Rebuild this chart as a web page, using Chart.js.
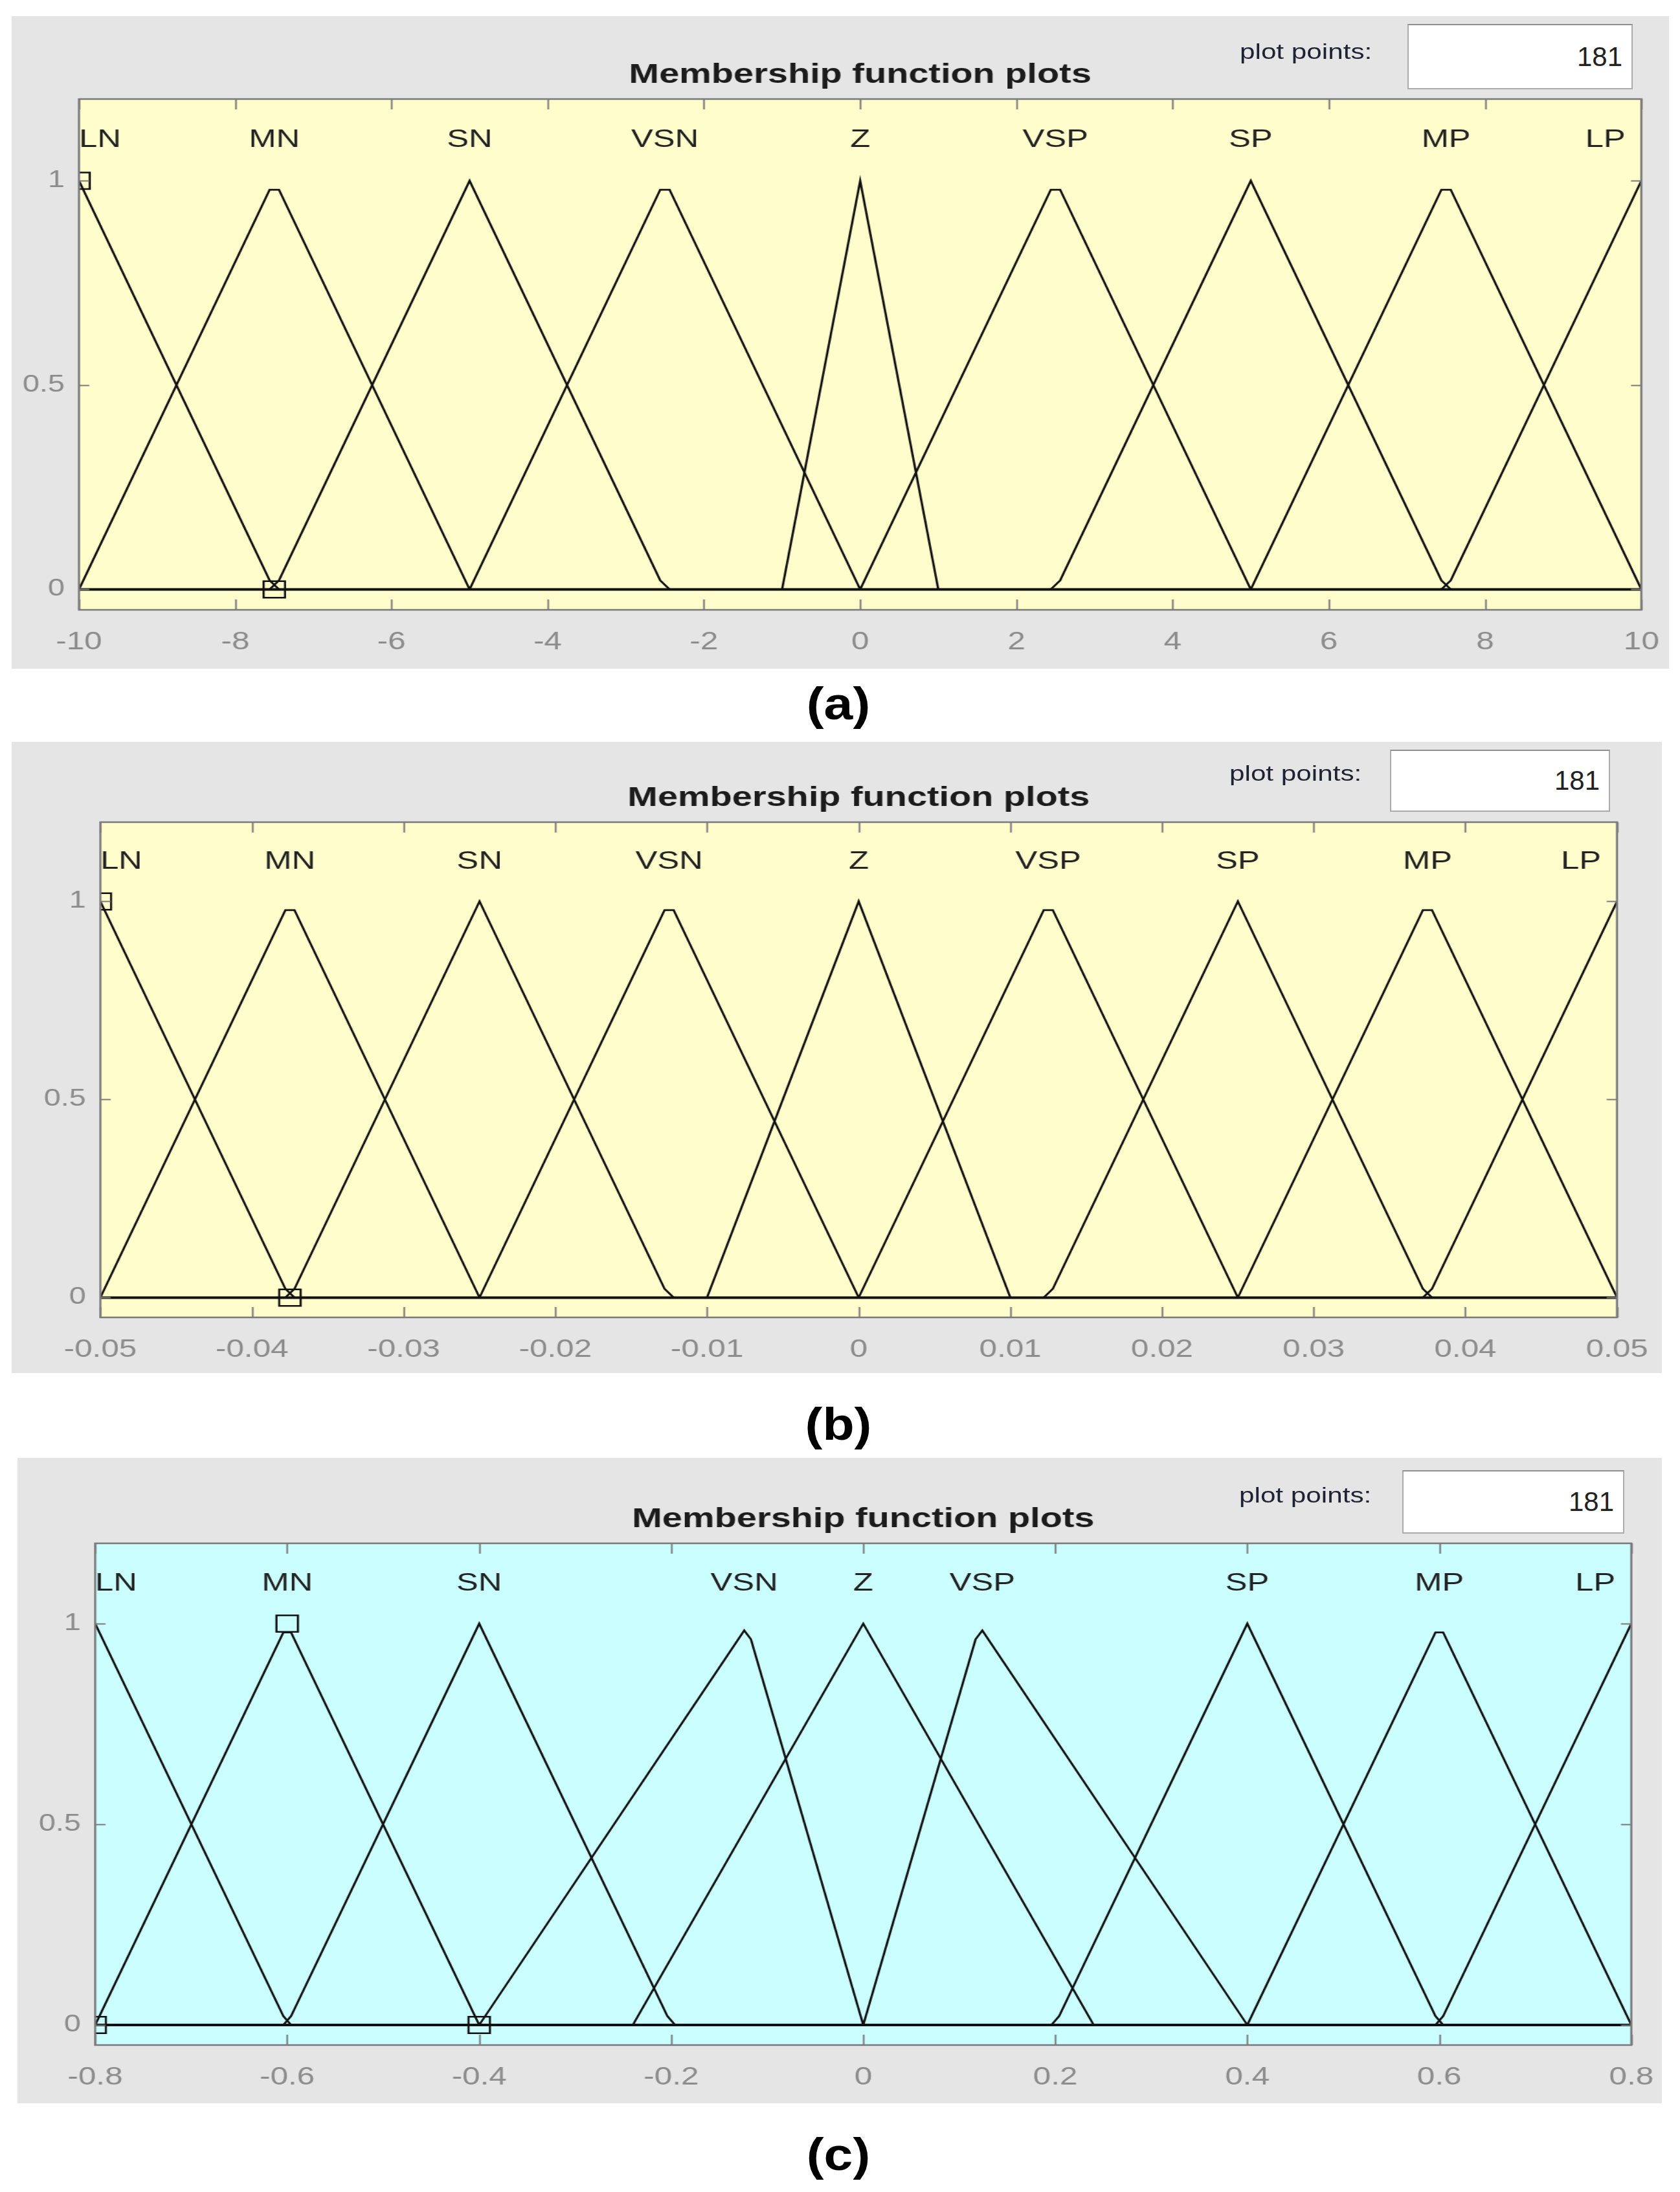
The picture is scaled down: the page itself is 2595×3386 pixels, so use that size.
<!DOCTYPE html>
<html>
<head>
<meta charset="utf-8">
<title>Membership function plots</title>
<script src="https://cdn.jsdelivr.net/npm/chart.js@4.4.1/dist/chart.umd.min.js"></script>
<style>
    html, body { margin: 0; background: #fff; }
    body { position: relative; width: 2595px; height: 3386px; overflow: hidden; font-family: "Liberation Sans", Arial, sans-serif; }
    .panel { position: absolute; background: #e5e5e5; }
    .panel canvas { position: absolute; left: 0; top: 0; }
    .points-label { position: absolute; height: 40px; line-height: 40px; font-size: 33px; color: #1f2233; white-space: nowrap; transform: scaleX(1.28); transform-origin: left center; }
    .points-box { position: absolute; box-sizing: border-box; background: #fff; border: 2px solid #ababab; border-top-color: #8e8e8e; text-align: right; padding-right: 14px; font-size: 42px; color: #222; }
    .caption { position: absolute; width: 400px; height: 80px; line-height: 80px; text-align: center; font-weight: bold; font-size: 70px; color: #000; transform: scaleX(1.15); }
</style>
</head>
<body>
<script>
// the original screenshot is stretched horizontally, the canvases are too
const S = 1.3;
const Y_AXIS_W = 70;
const X_AXIS_H = 80;

const mfNames = ['LN', 'MN', 'SN', 'VSN', 'Z', 'VSP', 'SP', 'MP', 'LP'];
const yRange = [-0.05, 1.2];
const yTicks = [0, 0.5, 1];
const yTickLabels = ['0', '0.5', '1'];
const labelLevel = 1.1;
const plotPoints = '181';
const plotTitle = 'Membership function plots';

// (a)
const rangeA = [-10, 10];
const xTicksA = [-10, -8, -6, -4, -2, 0, 2, 4, 6, 8, 10];
const xTickLabelsA = ['-10', '-8', '-6', '-4', '-2', '0', '2', '4', '6', '8', '10'];
const peaksA = [-10, -7.5, -5, -2.5, 0, 2.5, 5, 7.5, 10];
const curvesA = [
    [[-10, 1], [-7.56, 0.022], [-7.44, 0]],
    [[-10, 0], [-7.56, 0.978], [-7.44, 0.978], [-5, 0]],
    [[-7.56, 0], [-7.44, 0.022], [-5, 1], [-2.56, 0.022], [-2.44, 0]],
    [[-5, 0], [-2.56, 0.978], [-2.44, 0.978], [0, 0]],
    [[-1, 0], [0, 1], [1, 0]],
    [[0, 0], [2.44, 0.978], [2.56, 0.978], [5, 0]],
    [[2.44, 0], [2.56, 0.022], [5, 1], [7.44, 0.022], [7.56, 0]],
    [[5, 0], [7.44, 0.978], [7.56, 0.978], [10, 0]],
    [[7.44, 0], [7.56, 0.022], [10, 1]],
];
const markersA = [[-10, 1], [-7.5, 0]];

// (b)
const rangeB = [-0.05, 0.05];
const xTicksB = [-0.05, -0.04, -0.03, -0.02, -0.01, 0, 0.01, 0.02, 0.03, 0.04, 0.05];
const xTickLabelsB = ['-0.05', '-0.04', '-0.03', '-0.02', '-0.01', '0', '0.01', '0.02', '0.03', '0.04', '0.05'];
const peaksB = [-0.05, -0.0375, -0.025, -0.0125, 0, 0.0125, 0.025, 0.0375, 0.05];
const curvesB = [
    [[-0.05, 1], [-0.0378, 0.022], [-0.0372, 0]],
    [[-0.05, 0], [-0.0378, 0.978], [-0.0372, 0.978], [-0.025, 0]],
    [[-0.0378, 0], [-0.0372, 0.022], [-0.025, 1], [-0.0128, 0.022], [-0.0122, 0]],
    [[-0.025, 0], [-0.0128, 0.978], [-0.0122, 0.978], [0, 0]],
    [[-0.01, 0], [0, 1], [0.01, 0]],
    [[0, 0], [0.0122, 0.978], [0.0128, 0.978], [0.025, 0]],
    [[0.0122, 0], [0.0128, 0.022], [0.025, 1], [0.0372, 0.022], [0.0378, 0]],
    [[0.025, 0], [0.0372, 0.978], [0.0378, 0.978], [0.05, 0]],
    [[0.0372, 0], [0.0378, 0.022], [0.05, 1]],
];
const markersB = [[-0.05, 1], [-0.0375, 0]];

// (c)
const rangeC = [-0.8, 0.8];
const xTicksC = [-0.8, -0.6, -0.4, -0.2, 0, 0.2, 0.4, 0.6, 0.8];
const xTickLabelsC = ['-0.8', '-0.6', '-0.4', '-0.2', '0', '0.2', '0.4', '0.6', '0.8'];
const peaksC = [-0.8, -0.6, -0.4, -0.124, 0, 0.124, 0.4, 0.6, 0.8];
const curvesC = [
    [[-0.8, 1], [-0.604, 0.022], [-0.596, 0]],
    [[-0.8, 0], [-0.604, 0.978], [-0.596, 0.978], [-0.4, 0]],
    [[-0.604, 0], [-0.596, 0.022], [-0.4, 1], [-0.204, 0.022], [-0.196, 0]],
    [[-0.4, 0], [-0.124, 0.983], [-0.117, 0.961], [0, 0]],
    [[-0.24, 0], [0, 1], [0.24, 0]],
    [[0, 0], [0.117, 0.961], [0.124, 0.983], [0.4, 0]],
    [[0.196, 0], [0.204, 0.022], [0.4, 1], [0.596, 0.022], [0.604, 0]],
    [[0.4, 0], [0.596, 0.978], [0.604, 0.978], [0.8, 0]],
    [[0.596, 0], [0.604, 0.022], [0.8, 1]],
];
const markersC = [[-0.8, 0], [-0.6, 1], [-0.4, 0]];

const panels = [
    {
        caption: '(a)', range: rangeA, xTicks: xTicksA, xTickLabels: xTickLabelsA,
        peaks: peaksA, curves: curvesA, markers: markersA, background: '#fffdcc',
        box: [18, 25, 2578, 1033], plot: [122, 153, 2535, 942],
        pointsLabel: [1915, 80], pointsBox: [2174, 37, 2522, 138], captionAt: [1295, 1087],
    },
    {
        caption: '(b)', range: rangeB, xTicks: xTicksB, xTickLabels: xTickLabelsB,
        peaks: peaksB, curves: curvesB, markers: markersB, background: '#fffdcc',
        box: [18, 1146, 2567, 2121], plot: [155, 1270, 2498, 2035],
        pointsLabel: [1899, 1195], pointsBox: [2147, 1158, 2487, 1254], captionAt: [1295, 2200],
    },
    {
        caption: '(c)', range: rangeC, xTicks: xTicksC, xTickLabels: xTickLabelsC,
        peaks: peaksC, curves: curvesC, markers: markersC, background: '#cbfefe',
        box: [27, 2252, 2567, 3249], plot: [147, 2384, 2520, 3159],
        pointsLabel: [1914, 2310], pointsBox: [2166, 2271, 2509, 2369], captionAt: [1295, 3328],
    },
];

Chart.defaults.font.family = '"Liberation Sans", Arial, sans-serif';

const mfPanelPlugin = {
    id: 'mfPanel',
    beforeDraw(chart, args, opts) {
        const { ctx, chartArea: a } = chart;
        ctx.save();
        ctx.fillStyle = opts.background;
        ctx.fillRect(a.left, a.top, a.right - a.left, a.bottom - a.top);
        ctx.restore();
    },
    afterDatasetsDraw(chart, args, opts) {
        const { ctx, scales } = chart;
        const y = scales.y.getPixelForValue(opts.level);
        ctx.save();
        ctx.font = '39px "Liberation Sans", Arial, sans-serif';
        ctx.fillStyle = '#222';
        ctx.textBaseline = 'middle';
        opts.names.forEach((name, i) => {
            let x = scales.x.getPixelForValue(opts.peaks[i]);
            ctx.textAlign = 'center';
            if (i === 0) ctx.textAlign = 'left';
            if (i === opts.names.length - 1) {
                ctx.textAlign = 'right';
                x -= 19;
            }
            ctx.fillText(name, x, y);
        });
        ctx.restore();
    },
    afterDraw(chart, args, opts) {
        const { ctx, chartArea: a, scales } = chart;
        ctx.save();
        ctx.strokeStyle = '#7a7a7a';
        ctx.lineWidth = 2;
        ctx.beginPath();
        scales.x.ticks.forEach(t => {
            const x = Math.round(scales.x.getPixelForValue(t.value)) + 0.5;
            ctx.moveTo(x, a.bottom); ctx.lineTo(x, a.bottom - 16);
            ctx.moveTo(x, a.top); ctx.lineTo(x, a.top + 16);
        });
        scales.y.ticks.forEach(t => {
            const y = Math.round(scales.y.getPixelForValue(t.value)) + 0.5;
            ctx.moveTo(a.left, y); ctx.lineTo(a.left + 16 / S, y);
            ctx.moveTo(a.right, y); ctx.lineTo(a.right - 16 / S, y);
        });
        ctx.stroke();
        ctx.lineWidth = 2.5;
        ctx.strokeRect(a.left, a.top, a.right - a.left, a.bottom - a.top);

        ctx.font = 'bold 43px "Liberation Sans", Arial, sans-serif';
        ctx.fillStyle = '#1c1c1c';
        ctx.textAlign = 'center';
        ctx.textBaseline = 'middle';
        ctx.fillText(opts.title, (a.left + a.right) / 2, a.top - 37);
        ctx.restore();
    },
};

function addElement(className, text, style) {
    const el = document.createElement('div');
    el.className = className;
    el.textContent = text;
    Object.assign(el.style, style);
    document.body.appendChild(el);
    return el;
}

function buildPanel(p) {
    const [gl, gt, gr, gb] = p.box;
    const [pl, pt, pr, pb] = p.plot;
    const w = gr - gl;
    const h = gb - gt;
    const wInt = Math.round(w / S);

    const div = addElement('panel', '', { left: gl + 'px', top: gt + 'px', width: w + 'px', height: h + 'px' });
    const canvas = document.createElement('canvas');
    canvas.width = wInt;
    canvas.height = h;
    canvas.style.width = w + 'px';
    canvas.style.height = h + 'px';
    div.appendChild(canvas);

    const [lx, ly] = p.pointsLabel;
    addElement('points-label', 'plot points:', { left: lx + 'px', top: (ly - 20) + 'px' });
    const [bl, bt, br, bb] = p.pointsBox;
    addElement('points-box', plotPoints, {
        left: bl + 'px', top: bt + 'px', width: (br - bl) + 'px', height: (bb - bt) + 'px',
        lineHeight: (bb - bt - 4) + 'px',
    });
    const [cx, cy] = p.captionAt;
    addElement('caption', p.caption, { left: (cx - 200) + 'px', top: (cy - 40) + 'px' });

    const datasets = p.curves.map((curve, i) => ({
        label: mfNames[i],
        data: curve.map(([x, y]) => ({ x, y })),
        showLine: true,
        borderColor: '#111',
        borderWidth: 2.7,
        pointRadius: 0,
        tension: 0,
        clip: 0,
    }));
    datasets.push({
        label: 'universe',
        data: p.range.map(x => ({ x, y: 0 })),
        showLine: true,
        borderColor: '#111',
        borderWidth: 4,
        pointRadius: 0,
        clip: 0,
    });
    datasets.push({
        label: 'selected',
        data: p.markers.map(([x, y]) => ({ x, y })),
        showLine: false,
        pointStyle: 'rect',
        pointRadius: 18,
        pointBorderWidth: 2.5,
        pointBorderColor: '#111',
        pointBackgroundColor: 'rgba(0,0,0,0)',
        clip: 0,
    });

    const tickFont = { size: 38, family: '"Liberation Sans", Arial, sans-serif' };

    new Chart(canvas, {
        type: 'scatter',
        data: { datasets },
        options: {
            responsive: false,
            animation: false,
            devicePixelRatio: 1,
            events: [],
            layout: {
                padding: {
                    left: (pl - gl) / S - Y_AXIS_W,
                    top: pt - gt,
                    right: wInt - (pr - gl) / S,
                    bottom: h - (pb - gt) - X_AXIS_H,
                },
            },
            plugins: {
                legend: { display: false },
                tooltip: { enabled: false },
                title: { display: false },
                mfPanel: {
                    background: p.background,
                    names: mfNames,
                    peaks: p.peaks,
                    level: labelLevel,
                    title: plotTitle,
                },
            },
            scales: {
                x: {
                    type: 'linear',
                    min: p.range[0],
                    max: p.range[1],
                    grid: { display: false, drawTicks: false },
                    border: { display: false },
                    afterBuildTicks: scale => { scale.ticks = p.xTicks.map(value => ({ value })); },
                    afterFit: scale => {
                        scale.height = X_AXIS_H;
                        scale.paddingLeft = 0;
                        scale.paddingRight = 0;
                    },
                    ticks: {
                        autoSkip: false,
                        maxRotation: 0,
                        padding: 28,
                        color: '#8c8c8c',
                        font: tickFont,
                        callback: (value, i) => p.xTickLabels[i],
                    },
                },
                y: {
                    type: 'linear',
                    min: yRange[0],
                    max: yRange[1],
                    grid: { display: false, drawTicks: false },
                    border: { display: false },
                    afterBuildTicks: scale => { scale.ticks = yTicks.map(value => ({ value })); },
                    afterFit: scale => {
                        scale.width = Y_AXIS_W;
                        scale.paddingTop = 0;
                        scale.paddingBottom = 0;
                    },
                    ticks: {
                        autoSkip: false,
                        padding: 17,
                        color: '#8c8c8c',
                        font: { size: 36, family: tickFont.family },
                        callback: (value, i) => yTickLabels[i],
                    },
                },
            },
        },
        plugins: [mfPanelPlugin],
    });
}

panels.forEach(buildPanel);
</script>
</body>
</html>
